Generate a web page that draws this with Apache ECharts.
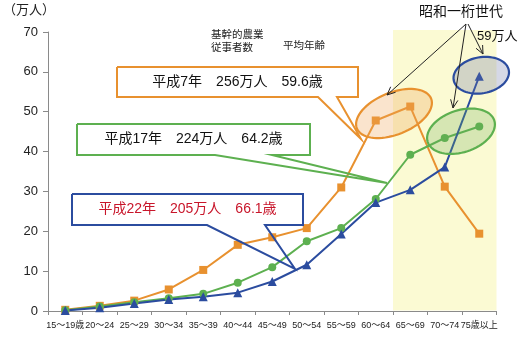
<!DOCTYPE html>
<html><head><meta charset="utf-8">
<script src="https://cdn.jsdelivr.net/npm/echarts@6/dist/echarts.min.js"></script>
<style>html,body{margin:0;padding:0;background:#fff}#c{width:522px;height:340px}</style>
</head><body><div id="c"></div>
<script>
const categories = ['15～19歳','20～24','25～29','30～34','35～39','40～44','45～49','50～54','55～59','60～64','65～69','70～74','75歳以上'];
const h7  = [0.3,1.3,2.6,5.4,10.3,16.6,18.5,20.8,31.0,47.8,51.3,31.2,19.4];
const h17 = [0.2,1.1,2.2,3.2,4.3,7.1,11.0,17.5,20.8,28.1,39.2,43.4,46.3];
const h22 = [0.1,0.8,1.9,2.9,3.6,4.6,7.4,11.6,19.3,27.2,30.4,36.1,58.9];
const seriesNames = ['平成7年','平成17年','平成22年'];
const calloutTexts = ['平成7年　256万人　59.6歳','平成17年　224万人　64.2歳','平成22年　205万人　66.1歳'];
const yTicks = [0,10,20,30,40,50,60,70];
const bandFrom = 10, bandTo = 12;

const FONT = '"Liberation Sans","Noto Sans CJK JP",sans-serif';
const C_OR = '#E8912F', C_GR = '#5DB050', C_BL = '#2B4C9F', C_RED = '#C8162B';

const chart = echarts.init(document.getElementById('c'), null, {renderer:'canvas'});
const mkSeries = (name, data, color, symbol, size) => ({
  name, type:'line', data, symbol, symbolSize:size, showSymbol:true,
  lineStyle:{color, width:2}, itemStyle:{color}, z:2, animation:false
});
chart.setOption({
  animation:false,
  textStyle:{fontFamily:FONT},
  grid:{left:48, right:25.5, top:32, bottom:29, containLabel:false},
  xAxis:{type:'category', data:categories, boundaryGap:true,
    axisLine:{lineStyle:{color:'#8a8a8a', width:1}},
    axisTick:{show:true, interval:0, length:4, lineStyle:{color:'#8a8a8a'}},
    axisLabel:{interval:0, fontSize:9, color:'#222', margin:10, fontFamily:FONT}},
  yAxis:{type:'value', min:yTicks[0], max:yTicks[yTicks.length-1], interval:10,
    axisLine:{show:true, lineStyle:{color:'#8a8a8a'}},
    axisTick:{show:true, length:5, lineStyle:{color:'#8a8a8a'}},
    splitLine:{show:false},
    axisLabel:{fontSize:13, color:'#222', margin:10, fontFamily:FONT}},
  series:[mkSeries(seriesNames[0], h7, C_OR, 'rect', 8), mkSeries(seriesNames[1], h17, C_GR, 'circle', 8), mkSeries(seriesNames[2], h22, C_BL, 'triangle', 9)]
});

const px = (i, v) => chart.convertToPixel({xAxisIndex:0, yAxisIndex:0}, [i, v]);
function ellipse(cx, cy, rx, ry, deg, stroke, fill){
  const a = deg*Math.PI/180, pts=[];
  for(let k=0;k<72;k++){const t=k/72*2*Math.PI; const x=rx*Math.cos(t), y=ry*Math.sin(t);
    pts.push([cx + x*Math.cos(a) - y*Math.sin(a), cy + x*Math.sin(a) + y*Math.cos(a)]);}
  return {type:'polygon', shape:{points:pts}, style:{fill, stroke, lineWidth:2.2}, z:10, silent:true};
}
function arrow(x1,y1,x2,y2){
  const ang = Math.atan2(y2-y1, x2-x1), L=9, sp=0.42;
  return [
    {type:'line', shape:{x1,y1,x2,y2}, style:{stroke:'#222', lineWidth:1}, z:12},
    {type:'polyline', shape:{points:[[x2-L*Math.cos(ang-sp), y2-L*Math.sin(ang-sp)],[x2,y2],[x2-L*Math.cos(ang+sp), y2-L*Math.sin(ang+sp)]]}, style:{stroke:'#222', lineWidth:1, fill:null}, z:12}
  ];
}
function callout(x1,y1,x2,y2,b1,b2,tx,ty,stroke,text,tcolor){
  return [
    {type:'rect', shape:{x:x1,y:y1,width:x2-x1,height:y2-y1}, style:{fill:'#fff', stroke:null}, z:11},
    {type:'polyline', shape:{points:[[x1,y1],[x2,y1],[x2,y2],[b2,y2],[tx,ty],[b1,y2],[x1,y2],[x1,y1]]}, style:{fill:null, stroke, lineWidth:2}, z:11},
    {type:'text', x:(x1+x2)/2, y:(y1+y2)/2, style:{text, fill:tcolor, font:'14px '+FONT, textAlign:'center', textVerticalAlign:'middle'}, z:12}
  ];
}
const half = (px(1,0)[0]-px(0,0)[0])/2;
const bL = px(bandFrom,0)[0]-half, bR = px(bandTo,0)[0]+half;
const bT = px(0,yTicks[yTicks.length-1])[1]-2, bB = px(0,0)[1];
const o9 = px(9,h7[9]), o10 = px(10,h7[10]);
const g11 = px(11,h17[11]), g12 = px(12,h17[12]);
const b12 = px(12,h22[12]);
const g = [];
g.push({type:'rect', shape:{x:bL, y:bT, width:bR-bL, height:bB-bT-0.5}, style:{fill:'#FBFAD3'}, z:0, silent:true});
g.push(ellipse((o9[0]+o10[0])/2+1, (o9[1]+o10[1])/2, 40, 21, -22, C_OR, 'rgba(240,165,90,0.3)'));
g.push(ellipse((g11[0]+g12[0])/2-1, (g11[1]+g12[1])/2-1, 35, 21, -18, C_GR, 'rgba(110,175,90,0.26)'));
g.push(ellipse(b12[0]+2, b12[1]-1, 28, 18, -10, C_BL, 'rgba(105,115,165,0.28)'));
g.push(...callout(117,67,358,97,318,337,361,139,C_OR,calloutTexts[0],'#111'));
g.push(...callout(77,124,310,155,215,272,387,183,C_GR,calloutTexts[1],'#111'));
g.push(...callout(72,194,303,225,207,265,295,269,C_BL,calloutTexts[2],C_RED));
g.push(...arrow(466,24,387,95));
g.push(...arrow(466,24,453,108));
g.push(...arrow(468,24,483,54));
g.push({type:'text', x:3, y:10, style:{text:'（万人）', fill:'#222', font:'13px '+FONT, textVerticalAlign:'middle'}, z:12});
g.push({type:'text', x:211, y:35, style:{text:'基幹的農業', fill:'#222', font:'10.5px '+FONT, textVerticalAlign:'middle'}, z:12});
g.push({type:'text', x:211, y:48, style:{text:'従事者数', fill:'#222', font:'10.5px '+FONT, textVerticalAlign:'middle'}, z:12});
g.push({type:'text', x:283, y:46, style:{text:'平均年齢', fill:'#222', font:'10.5px '+FONT, textVerticalAlign:'middle'}, z:12});
g.push({type:'text', x:461, y:12, style:{text:'昭和一桁世代', fill:'#111', font:'14px '+FONT, textAlign:'center', textVerticalAlign:'middle'}, z:12});
g.push({type:'text', x:477, y:36, style:{text:'59万人', fill:'#111', font:'13px '+FONT, textVerticalAlign:'middle'}, z:12});
chart.setOption({graphic:{elements:g}});
</script></body></html>
